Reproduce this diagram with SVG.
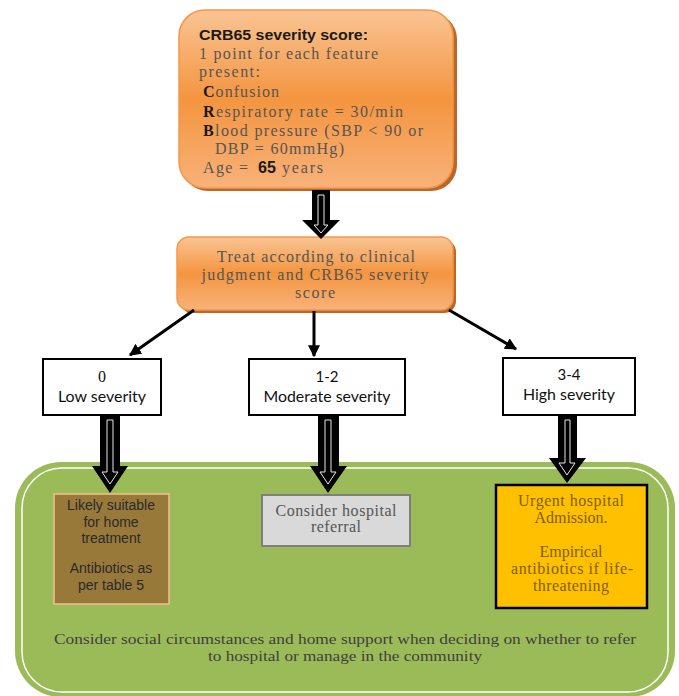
<svg xmlns="http://www.w3.org/2000/svg" width="679" height="696" viewBox="0 0 679 696">
<style>
.ser{font-family:"Liberation Serif","DejaVu Serif",serif;fill:#555;font-size:16px}
.sans{font-family:"Liberation Sans",Arial,sans-serif}
.cal{font-family:Lato,"Liberation Sans",sans-serif;font-size:15px;fill:#111}
.blk{fill:#000}
.inner{fill:none;stroke:#e8e8e8;stroke-width:1}
.conn{stroke:#000;stroke-width:3;fill:none}
.sev{fill:#fff;stroke:#000;stroke-width:2}
</style>
<defs>
<linearGradient id="og" x1="0" y1="0" x2="0" y2="1">
<stop offset="0" stop-color="#f9c494"/>
<stop offset="0.5" stop-color="#f4953f"/>
<stop offset="1" stop-color="#f8b27a"/>
</linearGradient>
<marker id="ah" viewBox="0 0 10 10" refX="9" refY="5" markerWidth="4" markerHeight="4" orient="auto" markerUnits="strokeWidth">
<path d="M0,0 L10,5 L0,10 z" fill="#000"/>
</marker>
</defs>

<g id="container">
<rect x="15" y="462" width="660" height="235" rx="46" fill="#9bbb59"/>
<rect x="22" y="468" width="646" height="224" rx="40" fill="none" stroke="#fff" stroke-width="1.5"/>
<text class="ser" text-anchor="middle" x="345" y="644" textLength="582" lengthAdjust="spacingAndGlyphs" style="fill:#404040;font-size:15px">Consider social circumstances and home support when deciding on whether to refer</text>
<text class="ser" text-anchor="middle" x="345" y="661" textLength="274" lengthAdjust="spacingAndGlyphs" style="fill:#404040;font-size:15px">to hospital or manage in the community</text>
</g>

<g id="crb65">
<rect x="182" y="13" width="275" height="178" rx="26" fill="#b9672a"/>
<rect x="179" y="10" width="274" height="178" rx="26" fill="url(#og)" stroke="#f79646" stroke-width="1.5"/>
<text class="sans" x="199" y="40" font-size="15" font-weight="bold" fill="#1a1a1a" textLength="169" lengthAdjust="spacingAndGlyphs">CRB65 severity score:</text>
<text class="ser" x="199" y="59" textLength="179" lengthAdjust="spacing">1 point for each feature</text>
<text class="ser" x="199" y="77" textLength="61" lengthAdjust="spacing">present:</text>
<text class="ser" x="203" y="97" textLength="76" lengthAdjust="spacing"><tspan font-weight="bold" fill="#1a1a1a">C</tspan>onfusion</text>
<text class="ser" x="203" y="117" textLength="200" lengthAdjust="spacing"><tspan font-weight="bold" fill="#1a1a1a">R</tspan>espiratory rate = 30/min</text>
<text class="ser" x="203" y="136" textLength="220" lengthAdjust="spacing"><tspan font-weight="bold" fill="#1a1a1a">B</tspan>lood pressure (SBP &lt; 90 or</text>
<text class="ser" x="215" y="154" textLength="129" lengthAdjust="spacing">DBP = 60mmHg)</text>
<text class="ser" x="203" y="173" textLength="45" lengthAdjust="spacing">Age =</text>
<text class="sans" x="258" y="173" font-size="16" font-weight="bold" fill="#1a1a1a">65</text>
<text class="ser" x="282" y="173" textLength="41" lengthAdjust="spacing">years</text>
</g>

<g id="treat">
<rect x="180" y="240" width="276" height="73" rx="12" fill="#b9672a"/>
<rect x="177" y="237" width="276" height="73" rx="12" fill="url(#og)" stroke="#f79646" stroke-width="1.5"/>
<text class="ser" text-anchor="middle" x="316" y="262" textLength="198" lengthAdjust="spacing">Treat according to clinical</text>
<text class="ser" text-anchor="middle" x="315" y="280" textLength="227" lengthAdjust="spacing">judgment and CRB65 severity</text>
<text class="ser" text-anchor="middle" x="315" y="298" textLength="40" lengthAdjust="spacing">score</text>
</g>

<g id="low">
<rect class="sev" x="43" y="359" width="118" height="56"/>
<text class="ser" text-anchor="middle" x="102" y="382" style="fill:#111">0</text>
<text class="cal" text-anchor="middle" x="102" y="402" textLength="88" lengthAdjust="spacingAndGlyphs">Low severity</text>
</g>
<g id="moderate">
<rect class="sev" x="249" y="359" width="156" height="56"/>
<text class="cal" text-anchor="middle" x="327" y="382">1-2</text>
<text class="cal" text-anchor="middle" x="327" y="402" textLength="127" lengthAdjust="spacingAndGlyphs">Moderate severity</text>
</g>
<g id="high">
<rect class="sev" x="503" y="358" width="132" height="57"/>
<text class="cal" text-anchor="middle" x="569" y="380">3-4</text>
<text class="cal" text-anchor="middle" x="569" y="400" textLength="92" lengthAdjust="spacingAndGlyphs">High severity</text>
</g>

<g id="home">
<rect x="54" y="494" width="115" height="110" fill="#98793a" stroke="#f5c08a" stroke-width="1.5"/>
<g class="sans" font-size="14" fill="#2a2a2a" text-anchor="middle">
<text x="111" y="510">Likely suitable</text>
<text x="111" y="527">for home</text>
<text x="111" y="543">treatment</text>
<text x="111" y="573">Antibiotics as</text>
<text x="111" y="590">per table 5</text>
</g>
</g>

<g id="referral">
<rect x="262" y="495" width="148" height="51" fill="#d9d9d9" stroke="#7f7f7f" stroke-width="2"/>
<text class="ser" text-anchor="middle" x="336" y="516" textLength="121" lengthAdjust="spacing">Consider hospital</text>
<text class="ser" text-anchor="middle" x="336" y="532" textLength="50" lengthAdjust="spacing">referral</text>
</g>

<g id="admission">
<rect x="496" y="485" width="151" height="123" fill="#ffc000" stroke="#000" stroke-width="2.5"/>
<g class="ser" text-anchor="middle">
<text x="571" y="506" textLength="106" lengthAdjust="spacing" style="fill:#7f6000">Urgent hospital</text>
<text x="571" y="523" textLength="73" lengthAdjust="spacing" style="fill:#7f6000">Admission.</text>
<text x="571" y="557" textLength="63" lengthAdjust="spacing" style="fill:#7f6000">Empirical</text>
<text x="572" y="574" textLength="122" lengthAdjust="spacing" style="fill:#7f6000">antibiotics if life-</text>
<text x="571" y="591" textLength="76" lengthAdjust="spacing" style="fill:#7f6000">threatening</text>
</g>
</g>

<g id="connectors">
<line class="conn" x1="194" y1="310" x2="130" y2="355" marker-end="url(#ah)"/>
<line class="conn" x1="314" y1="311" x2="314" y2="356" marker-end="url(#ah)"/>
<line class="conn" x1="449" y1="310" x2="516" y2="349" marker-end="url(#ah)"/>

<polygon class="blk" points="312,190 330,190 330,220 340,220 321,239 302,220 312,220"/>
<polygon class="inner" points="318,195 324,195 324,225 328,225 321,233 314,225 318,225"/>

<polygon class="blk" points="100,415 120,415 120,466 128,466 110,493 92,466 100,466"/>
<polygon class="inner" points="107,420 113,420 113,472 118,472 110,484 102,472 107,472"/>

<polygon class="blk" points="318,415 339,415 339,466 347,466 328,493 310,466 318,466"/>
<polygon class="inner" points="325,420 331,420 331,472 336,472 328,484 320,472 325,472"/>

<polygon class="blk" points="558,415 577,415 577,458 586,458 567,483 549,458 558,458"/>
<polygon class="inner" points="565,420 570,420 570,463 575,463 567,475 559,463 565,463"/>
</g>
</svg>
